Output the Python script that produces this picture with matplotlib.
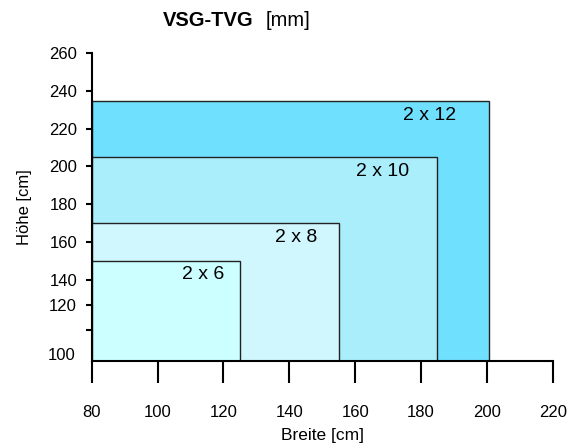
import matplotlib.pyplot as plt
from matplotlib.patches import Rectangle

plt.rcParams['font.family'] = ['Liberation Sans', 'DejaVu Sans']

# Daten
groessen = ['2 x 12', '2 x 10', '2 x 8', '2 x 6']
breite = [200.5, 185, 155, 125]     # cm
hoehe = [234.5, 205, 170, 150]      # cm
farben = ['#70e0ff', '#aaeefc', '#d0f6fe', '#ccffff']
label_x = [182.7, 168.2, 142, 113.8]
label_y = [227.2, 197.5, 162.5, 142.6]

x_ticks = [80, 100, 120, 140, 160, 180, 200, 220]
y_ticks = [260, 240, 220, 200, 180, 160, 140, 126.5, 113.3]
y_ticklabels = ['260', '240', '220', '200', '180', '160', '140', '120', '']

x0, y0 = 80, 97

fig = plt.figure(figsize=(5.71, 4.48), dpi=100)
ax = fig.add_axes([0.1606, 0.1949, 0.8074, 0.6862])

for b, h, c in zip(breite, hoehe, farben):
    ax.add_patch(Rectangle((x0, y0), b - x0, h - y0, facecolor=c,
                           edgecolor='#222222', linewidth=1.0, zorder=2))
for s, lx, ly in zip(groessen, label_x, label_y):
    ax.text(lx, ly, s, ha='center', va='center', fontsize=14, zorder=3)

ax.set_xlim(80, 220)
ax.set_ylim(y0, 260)
ax.spines['top'].set_visible(False)
ax.spines['right'].set_visible(False)
ax.spines['left'].set_linewidth(1.5)
ax.spines['bottom'].set_linewidth(1.5)
ax.spines['left'].set_zorder(4)
ax.spines['bottom'].set_zorder(4)

ax.set_xticks(x_ticks)
ax.set_xticklabels([str(v) for v in x_ticks])
ax.tick_params(axis='x', length=16, width=1.5, pad=16, labelsize=12)
ax.set_yticks(y_ticks)
ax.set_yticklabels(y_ticklabels)
ax.tick_params(axis='y', length=4.5, width=1.5, pad=6, labelsize=12)
# "100" steht ohne Strich
ax.text(-0.035, 100, '100', transform=ax.get_yaxis_transform(),
        ha='right', va='center', fontsize=12)

ax.set_xlabel('Breite [cm]', fontsize=12.5, labelpad=6)
ax.set_ylabel('Höhe [cm]', fontsize=12, labelpad=12)

fig.text(0.285, 0.955, 'VSG-TVG', fontsize=14.5, fontweight='bold',
         ha='left', va='center')
fig.text(0.465, 0.955, '[mm]', fontsize=14.5, ha='left', va='center')

fig.savefig('out.png', dpi=100)
